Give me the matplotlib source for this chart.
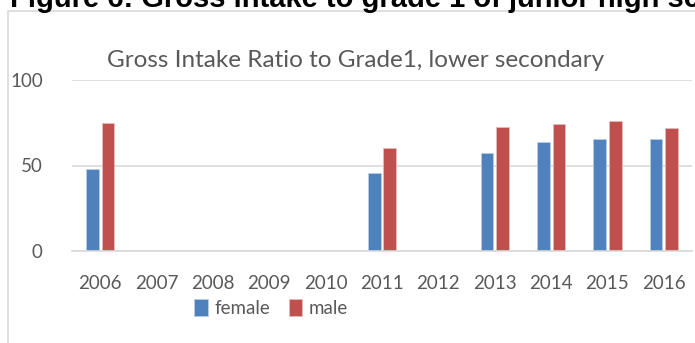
import numpy as np
import matplotlib.pyplot as plt
from matplotlib.patches import Rectangle

years = ['2006', '2007', '2008', '2009', '2010', '2011', '2012', '2013', '2014', '2015', '2016']
female = [48.1, 0, 0, 0, 0, 45.8, 0, 57.1, 63.6, 65.5, 65.3]
male = [74.7, 0, 0, 0, 0, 60.2, 0, 72.3, 74.4, 76.0, 71.8]

blue = '#4f81bd'
red = '#c0504d'
grey_text = '#595959'
grid = '#d9d9d9'

fig = plt.figure(figsize=(6.95, 3.43), dpi=100)

# caption above the chart box (runs past the top and right edges)
fig.text(10 / 695, 1 - 7 / 343, 'Figure 6: Gross intake to grade 1 of junior high school',
         fontfamily='Liberation Sans', fontweight='bold', fontsize=21,
         ha='left', va='baseline', color='black')

# chart area border
fig.patches.append(Rectangle((8 / 695, -0.2), 1.2, 1.2 - 11 / 343,
                             transform=fig.transFigure, fill=False,
                             edgecolor=grid, linewidth=1.2))

ax = fig.add_axes([72 / 695, 92 / 343, 620 / 695, 171 / 343])

x = np.arange(len(years))
w = 0.225
ax.bar(x - w / 2 - 0.025, female, w, color=blue, edgecolor='#b9cde5', linewidth=0.6, label='female')
ax.bar(x + w / 2 + 0.025, male, w, color=red, edgecolor='#e6b9b8', linewidth=0.6, label='male')

ax.set_xlim(-0.5, len(years) - 0.5)
ax.set_ylim(0, 100)
ax.set_yticks([0, 50, 100])
ax.set_xticks(x)
ax.set_xticklabels(years)
ax.yaxis.grid(True, color=grid, linewidth=1.2)
ax.set_axisbelow(True)
for s in ['top', 'right', 'left']:
    ax.spines[s].set_visible(False)
ax.spines['bottom'].set_color(grid)
ax.spines['bottom'].set_linewidth(1.2)
ax.tick_params(length=0, colors=grey_text, labelsize=13.5)
ax.tick_params(axis='x', pad=17)
ax.tick_params(axis='y', pad=21)
for lbl in ax.get_xticklabels() + ax.get_yticklabels():
    lbl.set_fontfamily('Lato')

fig.text(356 / 695, 1 - 67 / 343, 'Gross Intake Ratio to Grade1, lower secondary',
         fontfamily='Lato', fontsize=17.5, color=grey_text, ha='center', va='baseline')

fig.legend(loc='center', bbox_to_anchor=(271 / 695, 1 - 308 / 343), ncol=2, frameon=False,
           prop={'family': 'Lato', 'size': 13.5}, labelcolor=grey_text,
           handlelength=0.7, handleheight=1.0, handletextpad=0.35, columnspacing=1.0,
           borderpad=0, borderaxespad=0)

fig.savefig('out.png', dpi=100)
